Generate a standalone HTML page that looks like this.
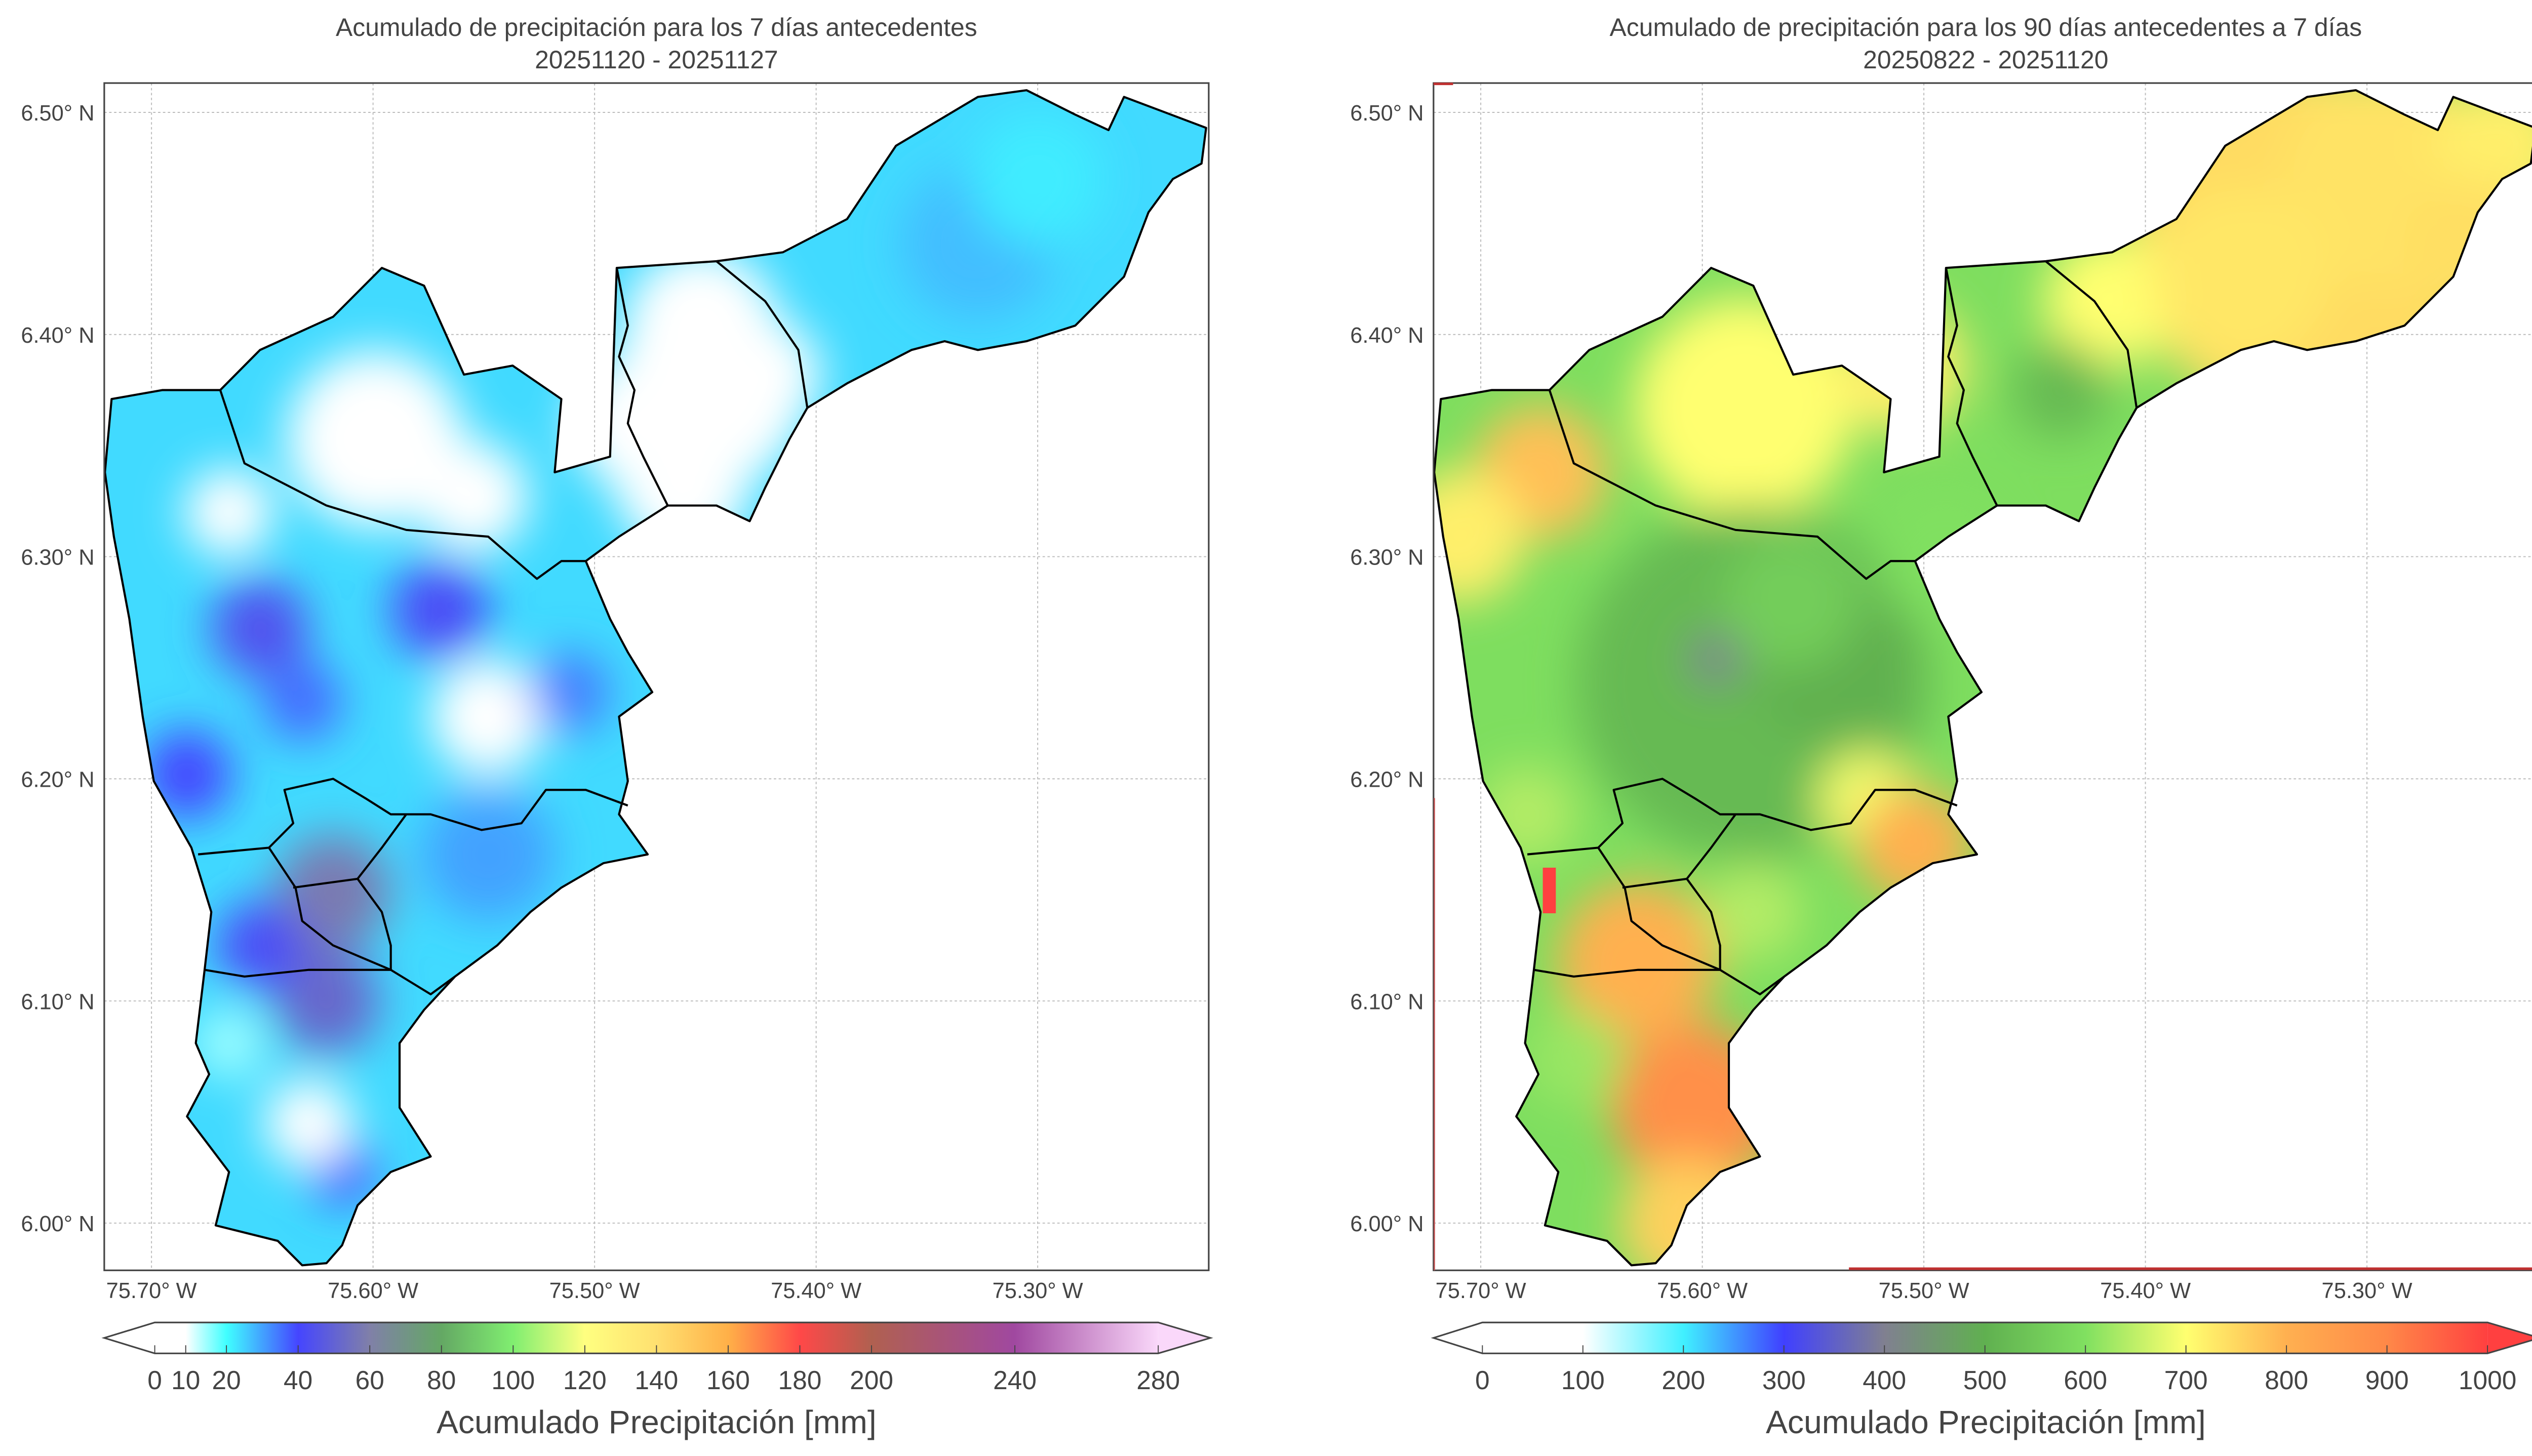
<!DOCTYPE html>
<html><head><meta charset="utf-8">
<style>
html,body{margin:0;padding:0;background:#fff;}
svg{display:block;}
text{font-family:"Liberation Sans",sans-serif;fill:#444;}
</style></head>
<body>
<svg id="fig" xmlns="http://www.w3.org/2000/svg" width="5044" height="2876" viewBox="0 0 1568 894" preserveAspectRatio="none">
<defs>
<filter id="blurL" x="-50%" y="-50%" width="200%" height="200%"><feGaussianBlur stdDeviation="14"/></filter>
<filter id="blurR" x="-50%" y="-50%" width="200%" height="200%"><feGaussianBlur stdDeviation="14"/></filter>
</defs>
</svg>
<script>
// ---------- data ----------
const xTicks = [75.70, 75.60, 75.50, 75.40, 75.30];
const yTicks = [6.50, 6.40, 6.30, 6.20, 6.10, 6.00];
const outlineLon = [75.632,75.643,75.671,75.665,75.684,75.674,75.680,75.676,75.673,75.682,75.699,75.704,75.710,75.717,75.721,75.718,75.695,75.669,75.651,75.618,75.596,75.577,75.559,75.537,75.515,75.518,75.493,75.490,75.445,75.415,75.386,75.364,75.327,75.305,75.283,75.268,75.261,75.224,75.226,75.239,75.250,75.261,75.283,75.305,75.327,75.342,75.357,75.386,75.404,75.412,75.423,75.430,75.445,75.467,75.489,75.504,75.493,75.485,75.474,75.489,75.485,75.489,75.476,75.496,75.515,75.529,75.544,75.563,75.577,75.588,75.588,75.574,75.592,75.607,75.614,75.621];
const outlineLat = [5.981,5.992,5.999,6.023,6.048,6.067,6.081,6.114,6.140,6.169,6.199,6.228,6.272,6.309,6.338,6.371,6.375,6.375,6.393,6.408,6.430,6.422,6.382,6.386,6.371,6.338,6.345,6.430,6.433,6.437,6.452,6.485,6.507,6.510,6.499,6.492,6.507,6.493,6.477,6.470,6.455,6.426,6.404,6.397,6.393,6.397,6.393,6.378,6.367,6.353,6.331,6.316,6.323,6.323,6.309,6.298,6.272,6.257,6.239,6.228,6.199,6.184,6.166,6.162,6.151,6.140,6.125,6.111,6.096,6.081,6.052,6.030,6.023,6.008,5.990,5.982];
const innerLines = [
 {lon:[75.490,75.485,75.489,75.482,75.485,75.478,75.467], lat:[6.430,6.404,6.390,6.375,6.360,6.345,6.323]},
 {lon:[75.445,75.423,75.408,75.404], lat:[6.433,6.415,6.393,6.367]},
 {lon:[75.669,75.658,75.621,75.585,75.548,75.526,75.515,75.504], lat:[6.375,6.342,6.323,6.312,6.309,6.290,6.298,6.298]},
 {lon:[75.679,75.647,75.636,75.640,75.618,75.603,75.592,75.574,75.551,75.533,75.522,75.504,75.485], lat:[6.166,6.169,6.180,6.195,6.200,6.191,6.184,6.184,6.177,6.180,6.195,6.195,6.188]},
 {lon:[75.636,75.607,75.596,75.585], lat:[6.151,6.155,6.169,6.184]},
 {lon:[75.647,75.635,75.632,75.618,75.592], lat:[6.169,6.151,6.136,6.125,6.114]},
 {lon:[75.607,75.596,75.592,75.592], lat:[6.155,6.140,6.125,6.114]},
 {lon:[75.676,75.658,75.629,75.592,75.574,75.563], lat:[6.114,6.111,6.114,6.114,6.103,6.111]}
];
// left panel precipitation field (7 days)
const leftBase = 24;
const leftBlobLon = [75.599,75.665,75.548,75.449,75.460,75.651,75.570,75.632,75.684,75.511,75.618,75.621,75.651,75.614,75.629,75.665,75.327,75.548,75.300,75.452,75.460,75.423,75.555,75.480];
const leftBlobLat = [6.353,6.320,6.228,6.375,6.331,6.268,6.276,6.235,6.202,6.239,6.149,6.100,6.125,6.023,6.045,6.081,6.441,6.166,6.470,6.404,6.338,6.382,6.327,6.360];
const leftBlobR   = [0.040,0.020,0.026,0.045,0.030,0.022,0.022,0.018,0.020,0.018,0.026,0.024,0.020,0.015,0.020,0.016,0.035,0.030,0.030,0.035,0.030,0.025,0.025,0.030];
const leftBlobVal = [10,4,5,0,0,44,42,36,40,34,58,52,42,38,10,15,27,30,22,0,0,5,10,0];
// right panel precipitation field (90 days)
const rightBase = 595;
const rightBlobLon = [75.581,75.673,75.327,75.290,75.416,75.511,75.438,75.526,75.577,75.540,75.594,75.526,75.504,75.603,75.629,75.658,75.607,75.710,75.679,75.577,75.560,75.490,75.357,75.239,75.254];
const rightBlobLat = [6.367,6.338,6.441,6.470,6.415,6.386,6.375,6.404,6.243,6.250,6.254,6.191,6.170,6.052,6.118,6.074,6.000,6.309,6.184,6.140,6.280,6.300,6.426,6.485,6.441];
const rightBlobR   = [0.050,0.030,0.080,0.050,0.030,0.030,0.022,0.014,0.080,0.035,0.012,0.022,0.026,0.038,0.036,0.022,0.030,0.030,0.022,0.022,0.030,0.030,0.040,0.030,0.030];
const rightBlobVal = [700,780,745,735,700,720,520,620,520,500,400,690,800,880,800,620,760,720,640,640,560,600,730,720,740];
const leftStopsV = [0,10,20,40,60,80,100,120,140,160,180,200,240,280];
const leftStopsC = ["#ffffff","#ffffff","#40ffff","#4545ff","#8080a8","#64a864","#80ee70","#ffff80","#ffe070","#ffb048","#ff4848","#b06050","#a048a0","#fad8fa"];
const leftCbTicks = [0,10,20,40,60,80,100,120,140,160,180,200,240,280];
const rightStopsV = [0,100,200,300,400,500,600,700,800,900,1000];
const rightStopsC = ["#ffffff","#ffffff","#40f0ff","#4040ff","#808090","#60b050","#80e060","#ffff70","#ffb050","#ff8848","#ff4040"];
const rightCbTicks = [0,100,200,300,400,500,600,700,800,900,1000];

// ---------- helpers ----------
const svg = document.getElementById('fig');
const NS = 'http://www.w3.org/2000/svg';
function mk(tag, attrs, parent){
  const e = document.createElementNS(NS, tag);
  for (const k in attrs) e.setAttribute(k, attrs[k]);
  (parent||svg).appendChild(e);
  return e;
}
function hex(c){return [parseInt(c.substr(1,2),16),parseInt(c.substr(3,2),16),parseInt(c.substr(5,2),16)];}
function cmap(v, V, C){
  if (v<=V[0]) return C[0];
  for (let i=0;i<V.length-1;i++){
    if (v<=V[i+1]){
      const t=(v-V[i])/(V[i+1]-V[i]); const a=hex(C[i]), b=hex(C[i+1]);
      return 'rgb('+a.map((x,j)=>Math.round(x+(b[j]-x)*t)).join(',')+')';
    }
  }
  return C[C.length-1];
}
const AX = {x0:64, x1:742, y0:51, y1:780};
function xs(lon, ox){ return ox + 93 + (75.70 - lon)*1360; }
function ys(lat){ return 69 + (6.50 - lat)*1364; }

function drawPanel(ox, id, title1, title2, base, bLon, bLat, bR, bVal, V, C){
  const g = mk('g', {});
  
  
  const t1 = mk('text', {x: ox+403, y: 22, 'text-anchor':'middle', 'font-size':15.5}, g);
  t1.textContent = title1;
  
  
  const t2 = mk('text', {x: ox+403, y: 42, 'text-anchor':'middle', 'font-size':15.5}, g);
  t2.textContent = title2;
  
  
  xTicks.forEach(v=>{
    const x = xs(v, ox);
    const l = mk('line', {x1:x, x2:x, y1:AX.y0, y2:AX.y1, stroke:'#bbb', 'stroke-width':0.6, 'stroke-dasharray':'1.5,1.5'}, g);
    
    
    const tk = mk('text', {x:x, y:797, 'text-anchor':'middle', 'font-size':13.5}, g);
    tk.textContent = v.toFixed(2)+'° W';
    
    
  });
  yTicks.forEach(v=>{
    const y = ys(v);
    const l = mk('line', {x1:ox+AX.x0, x2:ox+AX.x1, y1:y, y2:y, stroke:'#bbb', 'stroke-width':0.6, 'stroke-dasharray':'1.5,1.5'}, g);
    
    
    const tk = mk('text', {x:ox+58, y:y+5, 'text-anchor':'end', 'font-size':13.5}, g);
    tk.textContent = v.toFixed(2)+'° N';
    
    
  });
  const pts = outlineLon.map((lo,i)=>xs(lo,ox).toFixed(1)+','+ys(outlineLat[i]).toFixed(1)).join(' ');
  const cp = mk('clipPath', {id:'clip-'+id}, svg.querySelector('defs'));
  mk('polygon', {points: pts}, cp);
  const field = mk('g', {'clip-path':'url(#clip-'+id+')'}, g);
  
  
  mk('polygon', {points: pts, fill: cmap(base, V, C)}, field);
  const bl = mk('g', {filter: 'url(#blur'+(ox?'R':'L')+')'}, field);
  bLon.forEach((lo,i)=>{
    const c = mk('circle', {cx: xs(lo,ox), cy: ys(bLat[i]), r: bR[i]*1360, fill: cmap(bVal[i], V, C)}, bl);
    
    
  });
  if (ox){
    const r = mk('rect', {x: xs(75.672,ox), y: ys(6.160), width: 8, height: 28, fill: cmap(1000, V, C)}, field);
    
    
  }
  const ol = mk('polygon', {points: pts, fill:'none', stroke:'#000', 'stroke-width':1.3, 'stroke-linejoin':'round'}, g);
  
  
  innerLines.forEach(L=>{
    const p = L.lon.map((lo,i)=>xs(lo,ox).toFixed(1)+','+ys(L.lat[i]).toFixed(1)).join(' ');
    const pl = mk('polyline', {points:p, fill:'none', stroke:'#000', 'stroke-width':1.3, 'stroke-linejoin':'round'}, g);
    
    
  });
  const fr = mk('rect', {x: ox+AX.x0, y: AX.y0, width: AX.x1-AX.x0, height: AX.y1-AX.y0, fill:'none', stroke:'#444', 'stroke-width':1}, g);
  
  
  if (ox){
    const rl = mk('line', {x1: 1135, x2: 1558, y1: 779, y2: 779, stroke:'#c03030', 'stroke-width':1.6}, g);
    
    
    const rl2 = mk('line', {x1: 880.5, x2: 880.5, y1: 490, y2: 780, stroke:'#c05050', 'stroke-width':0.8}, g);
    
    
    const rl3 = mk('line', {x1: 880, x2: 892, y1: 51.5, y2: 51.5, stroke:'#c03030', 'stroke-width':1.5}, g);
    
    
  }
}

function drawColorbar(ox, id, V, C, ticks, posFn){
  const g = mk('g', {});
  
  
  const y0 = 812, y1 = 831, ym = (y0+y1)/2;
  const xa = posFn(V[0]), xb = posFn(V[V.length-1]);
  const defs = svg.querySelector('defs');
  const gr = mk('linearGradient', {id:'grad-'+id, gradientUnits:'userSpaceOnUse', x1: xa, x2: xb, y1:0, y2:0}, defs);
  V.forEach((v,i)=>{ mk('stop', {offset: ((posFn(v)-xa)/(xb-xa)).toFixed(4), 'stop-color': C[i]}, gr); });
  mk('rect', {x: xa, y: y0, width: xb-xa, height: y1-y0, fill:'url(#grad-'+id+')'}, g);
  mk('polygon', {points: `${xa},${y0} ${ox+64},${ym} ${xa},${y1}`, fill: C[0]}, g);
  mk('polygon', {points: `${xb},${y0} ${ox+743},${ym} ${xb},${y1}`, fill: C[C.length-1]}, g);
  const o = mk('polygon', {points: `${xa},${y0} ${xb},${y0} ${ox+743},${ym} ${xb},${y1} ${xa},${y1} ${ox+64},${ym}`, fill:'none', stroke:'#444', 'stroke-width':1}, g);
  
  
  ticks.forEach(v=>{
    const x = posFn(v);
    mk('line', {x1:x, x2:x, y1:y1-5, y2:y1, stroke:'#444', 'stroke-width':0.6}, g);
    const t = mk('text', {x:x, y:853, 'text-anchor':'middle', 'font-size':16}, g);
    t.textContent = v;
    
    
  });
  const lab = mk('text', {x: ox+403, y: 880, 'text-anchor':'middle', 'font-size':20}, g);
  lab.textContent = 'Acumulado Precipitación [mm]';
  
  
}

function leftCbPos(v){
  if (v<=10) return 95 + v*1.9;
  if (v<=20) return 114 + (v-10)*2.5;
  return 139 + (v-20)*2.2;
}
function rightCbPos(v){ return 910 + v*0.617; }

drawPanel(0, 'left', 'Acumulado de precipitación para los 7 días antecedentes', '20251120 - 20251127',
  leftBase, leftBlobLon, leftBlobLat, leftBlobR, leftBlobVal, leftStopsV, leftStopsC);
drawPanel(816, 'right', 'Acumulado de precipitación para los 90 días antecedentes a 7 días', '20250822 - 20251120',
  rightBase, rightBlobLon, rightBlobLat, rightBlobR, rightBlobVal, rightStopsV, rightStopsC);
drawColorbar(0, 'left', leftStopsV, leftStopsC, leftCbTicks, leftCbPos);
drawColorbar(816, 'right', rightStopsV, rightStopsC, rightCbTicks, rightCbPos);
</script>
</body></html>
